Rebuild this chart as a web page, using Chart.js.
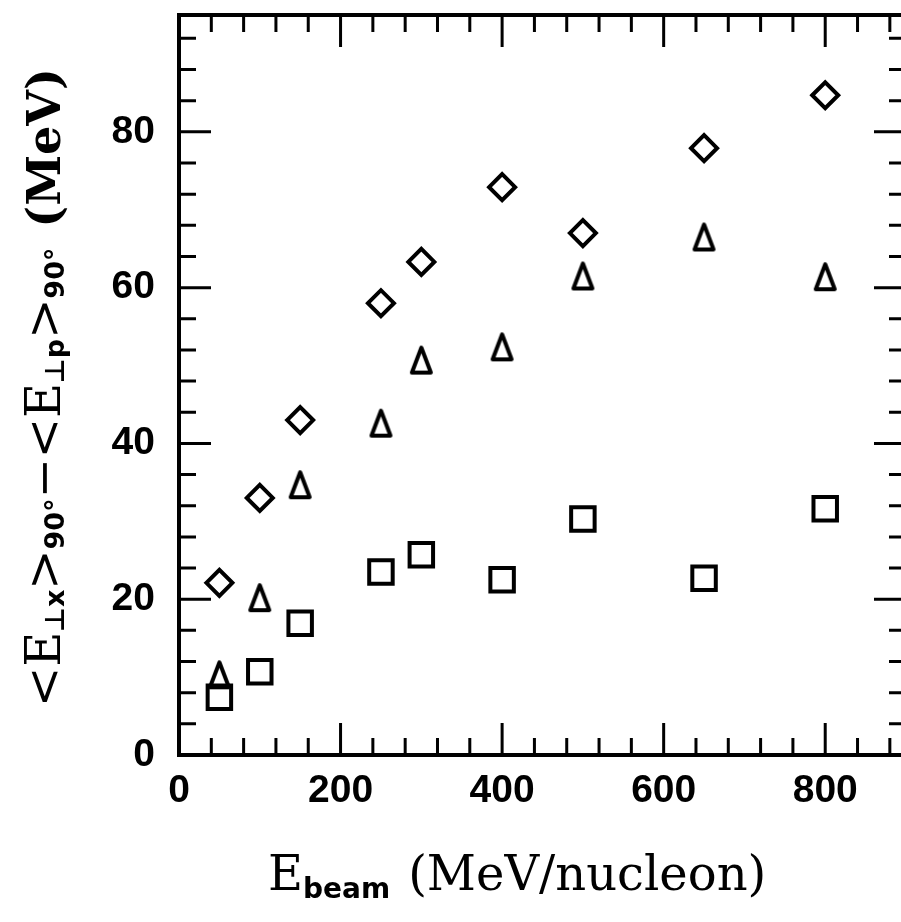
<!DOCTYPE html>
<html>
<head>
<title>Transverse energy difference vs beam energy</title>
<style>
  html, body { margin: 0; padding: 0; overflow: hidden; background: #fff; }
  #chart-container { width: 910px; height: 922px; }
</style>
</head>
<body>
<div id="chart-container">
  <canvas id="mycanvas" width="910" height="922"></canvas>
</div>

<script src="https://cdn.jsdelivr.net/npm/chart.js@4.4.1/dist/chart.umd.min.js"></script>
<script>
// beam energies (MeV/nucleon) and the three measured series (MeV)
var beamEnergy = [50, 100, 150, 250, 300, 400, 500, 650, 800];
var diamondValues = [22.1, 33.0, 43.0, 58.0, 63.3, 72.9, 67.0, 77.9, 84.7];
var triangleValues = [10.3, 20.2, 34.7, 42.6, 50.7, 52.4, 61.5, 66.5, 61.4];
var squareValues = [7.4, 10.7, 16.9, 23.5, 25.7, 22.5, 30.3, 22.7, 31.6];

var xTickLabels = [0, 200, 400, 600, 800];
var yTickLabels = [0, 20, 40, 60, 80];
var xMinorStep = 40;
var yMinorStep = 4;

function points(values) {
  return beamEnergy.map(function(e, i) { return { x: e, y: values[i] }; });
}

// open triangle, a bit taller than wide
function makeTriangle(w, h, lw) {
  var c = document.createElement('canvas');
  c.width = w;
  c.height = h;
  var g = c.getContext('2d');
  g.strokeStyle = '#000';
  g.lineWidth = lw;
  g.lineJoin = 'round';
  g.beginPath();
  g.moveTo(w / 2, lw / 2 + 1);
  g.lineTo(w - lw / 2 - 1, h - lw / 2 - 1);
  g.lineTo(lw / 2 + 1, h - lw / 2 - 1);
  g.closePath();
  g.stroke();
  return c;
}

var serif = '"DejaVu Serif", serif';
var sans = '"DejaVu Sans", sans-serif';

function drawRun(ctx, parts, x, y) {
  parts.forEach(function(p) {
    ctx.font = p.font;
    ctx.fillText(p.text, x, y + (p.dy || 0));
    x += ctx.measureText(p.text).width + (p.gap || 0);
  });
}

// drop the label overhang padding so the plot box sits where the layout says
function noOverhang(s) {
  s.paddingTop = 0;
  s.paddingBottom = 0;
  s.paddingLeft = 0;
  s.paddingRight = 0;
}

// box frame with inward ticks on all four sides
var frameTicks = {
  id: 'frameTicks',
  beforeDatasetsDraw: function(chart) {
    var ctx = chart.ctx, a = chart.chartArea;
    var xs = chart.scales.x, ys = chart.scales.y;
    ctx.save();
    ctx.strokeStyle = '#000';
    ctx.lineCap = 'butt';
    ctx.lineWidth = 3;
    ctx.beginPath();
    for (var v = xs.min; v <= xs.max; v += xMinorStep) {
      var len = xTickLabels.indexOf(v) >= 0 ? 32 : 17;
      var px = xs.getPixelForValue(v);
      ctx.moveTo(px, a.bottom); ctx.lineTo(px, a.bottom - len);
      ctx.moveTo(px, a.top); ctx.lineTo(px, a.top + len);
    }
    for (var w = ys.min; w <= ys.max; w += yMinorStep) {
      var ylen = yTickLabels.indexOf(w) >= 0 ? 32 : 17;
      var py = ys.getPixelForValue(w);
      ctx.moveTo(a.left, py); ctx.lineTo(a.left + ylen, py);
      ctx.moveTo(a.right, py); ctx.lineTo(a.right - ylen, py);
    }
    ctx.stroke();
    ctx.lineWidth = 4;
    ctx.strokeRect(a.left, a.top, a.right - a.left, a.bottom - a.top);
    ctx.restore();
  },
  afterDraw: function(chart) {
    var ctx = chart.ctx;
    ctx.save();
    ctx.fillStyle = '#000';
    ctx.textBaseline = 'alphabetic';
    ctx.textAlign = 'left';

    drawRun(ctx, [
      { text: 'E', font: '48px ' + serif },
      { text: 'beam', font: 'bold 28px ' + sans, dy: 8, gap: 18 },
      { text: '(MeV/nucleon)', font: '48px ' + serif }
    ], 268, 890);

    ctx.translate(60, 707);
    ctx.rotate(-Math.PI / 2);
    drawRun(ctx, [
      { text: '<', font: '48px ' + serif },
      { text: 'E', font: '48px ' + serif },
      { text: '\u22A5x', font: 'bold 27px ' + sans, dy: 4 },
      { text: '>', font: '48px ' + serif },
      { text: '90\u00B0', font: 'bold 27px ' + sans, dy: 4 },
      { text: '\u2212', font: '48px ' + serif },
      { text: '<', font: '48px ' + serif },
      { text: 'E', font: '48px ' + serif },
      { text: '\u22A5p', font: 'bold 27px ' + sans, dy: 4 },
      { text: '>', font: '48px ' + serif },
      { text: '90\u00B0', font: 'bold 27px ' + sans, dy: 4, gap: 20 },
      { text: '(MeV)', font: 'bold 46px ' + serif }
    ], 0, 0);
    ctx.restore();
  }
};

var tickFont = { family: '"Liberation Sans", sans-serif', weight: 'bold', size: 39 };

var chartdata = {
  datasets: [
    {
      label: 'diamonds',
      data: points(diamondValues),
      pointStyle: 'rectRot',
      pointRadius: 13,
      borderColor: '#000',
      backgroundColor: 'rgba(0,0,0,0)',
      pointBorderWidth: 4,
      showLine: false
    },
    {
      label: 'triangles',
      data: points(triangleValues),
      pointStyle: makeTriangle(25, 31, 4),
      pointRadius: 14,
      borderColor: '#000',
      backgroundColor: 'rgba(0,0,0,0)',
      showLine: false
    },
    {
      label: 'squares',
      data: points(squareValues),
      pointStyle: 'rect',
      pointRadius: 16.6,
      borderColor: '#000',
      backgroundColor: 'rgba(0,0,0,0)',
      pointBorderWidth: 4,
      showLine: false
    }
  ]
};

var ctx = document.getElementById('mycanvas');
var scatter = new Chart(ctx, {
  type: 'scatter',
  data: chartdata,
  plugins: [frameTicks],
  options: {
    responsive: false,
    animation: false,
    layout: { autoPadding: false, padding: { top: 15, right: 4, left: 0, bottom: 0 } },
    plugins: { legend: { display: false }, tooltip: { enabled: false } },
    scales: {
      x: {
        type: 'linear',
        min: 0,
        max: 900,
        grid: { display: false, drawTicks: false },
        border: { display: false },
        afterBuildTicks: function(s) { s.ticks = xTickLabels.map(function(v) { return { value: v }; }); },
        afterFit: function(s) { s.height = 167; noOverhang(s); },
        ticks: { font: tickFont, color: '#000', padding: 13, maxRotation: 0, autoSkip: false }
      },
      y: {
        type: 'linear',
        min: 0,
        max: 95,
        grid: { display: false, drawTicks: false },
        border: { display: false },
        afterBuildTicks: function(s) { s.ticks = yTickLabels.map(function(v) { return { value: v }; }); },
        afterFit: function(s) { s.width = 179; noOverhang(s); },
        ticks: { font: tickFont, color: '#000', padding: 24 }
      }
    }
  }
});
</script>
</body>
</html>
